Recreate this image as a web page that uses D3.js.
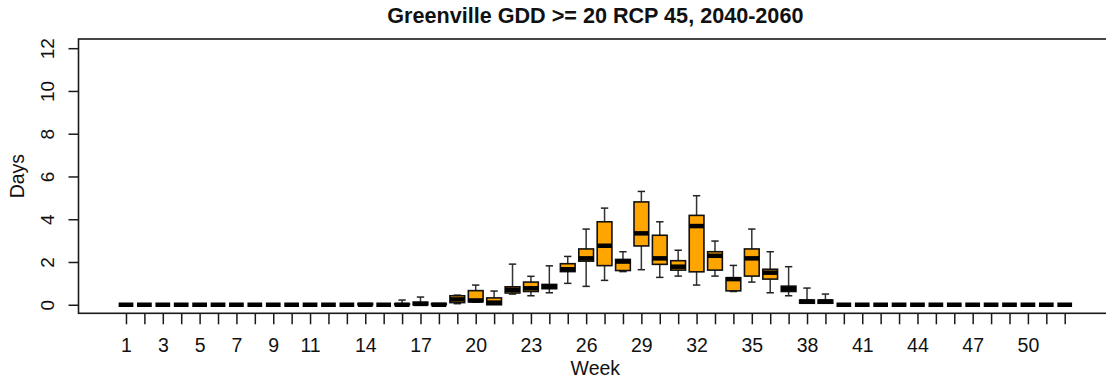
<!DOCTYPE html>
<html>
<head>
<meta charset="utf-8">
<script src="https://cdn.jsdelivr.net/npm/d3@7"></script>
<style>
  html, body { margin: 0; padding: 0; background: #fff; }
  svg { display: block; font-family: "Liberation Sans", Arial, sans-serif; }
</style>
</head>
<body>
<svg id="chart" width="1106" height="382"></svg>
<script>
// Weekly distribution of days with GDD >= 20 (boxplot statistics per week)
const weeks = d3.range(1, 53);
const whiskerLow = [
  0,0,0,0,0,0,0,0,0,0,0,0,0,0,0,0,0,0,0.05,0.12,
  0,0.5,0.42,0.56,1.0,0.86,1.14,1.55,1.64,1.28,
  1.34,0.92,1.34,0.62,1.06,0.56,0.42,0.07,0.07,0,
  0,0,0,0,0,0,0,0,0,0,0,0
];
const q1 = [
  0,0,0,0,0,0,0,0,0,0,0,0,0,0,0,0,0,0,0.1,0.14,
  0,0.55,0.62,0.75,1.55,2.04,1.83,1.6,2.75,1.89,
  1.62,1.54,1.62,0.65,1.34,1.2,0.62,0.07,0.07,0,
  0,0,0,0,0,0,0,0,0,0,0,0
];
const median = [
  0,0,0,0,0,0,0,0,0,0,0,0,0,0,0,0,0.04,0,0.25,0.2,
  0.1,0.7,0.77,0.85,1.66,2.17,2.76,2.02,3.34,2.17,
  1.78,3.68,2.29,1.2,2.17,1.5,0.75,0.15,0.15,0,
  0,0,0,0,0,0,0,0,0,0,0,0
];
const q3 = [
  0,0,0,0,0,0,0,0,0,0,0,0,0,0.06,0,0.05,0.12,0.06,0.42,0.66,
  0.32,0.84,1.06,0.95,1.92,2.61,3.88,2.12,4.81,3.25,
  2.06,4.18,2.48,1.26,2.61,1.66,0.87,0.22,0.22,0,
  0,0,0,0,0,0,0,0,0,0,0,0
];
const whiskerHigh = [
  0,0,0,0,0,0,0,0,0,0,0,0,0,0.06,0,0.22,0.36,0.06,0.45,0.92,
  0.64,1.9,1.33,1.82,2.26,3.54,4.52,2.48,5.3,3.88,
  2.55,5.1,2.98,1.84,3.54,2.48,1.78,0.78,0.5,0,
  0,0,0,0,0,0,0,0,0,0,0,0
];
const xTickLabels = [1,3,5,7,9,11,14,17,20,23,26,29,32,35,38,41,44,47,50];
const yTicks = [0,2,4,6,8,10,12];

const svg = d3.select("#chart");

// Plot region (extends slightly past the right edge of the canvas)
const plotLeft = 78.5, plotRight = 1112.2, plotTop = 39, plotBottom = 313.3;

const x = d3.scaleLinear().domain([-1.58, 54.58]).range([plotLeft, plotRight]);
const y = d3.scaleLinear().domain([-0.4, 12.43]).range([plotBottom, plotTop]);

const boxW = (x(1) - x(0)) * 0.8;
const capW = boxW * 0.5;

const axisColor = "#1a1a1a";

// Frame around the plot region
svg.append("rect")
  .attr("x", plotLeft).attr("y", plotTop)
  .attr("width", plotRight - plotLeft).attr("height", plotBottom - plotTop)
  .attr("fill", "none").attr("stroke", axisColor).attr("stroke-width", 1.6);

// Y axis
const yAxis = svg.append("g")
  .attr("transform", `translate(${plotLeft},0)`)
  .call(d3.axisLeft(y).tickValues(yTicks).tickSize(10).tickFormat(d3.format("d")));
yAxis.select(".domain").remove();
yAxis.selectAll(".tick line").attr("stroke", axisColor).attr("stroke-width", 1.5);
yAxis.selectAll(".tick text").remove();
yAxis.selectAll(".tick").append("text")
  .attr("transform", "translate(-31,0) rotate(-90)")
  .attr("text-anchor", "middle")
  .attr("dominant-baseline", "central")
  .attr("fill", "#111")
  .style("font-size", "19px")
  .text(d => d);

// X axis
const labelSet = new Set(xTickLabels);
const xAxis = svg.append("g")
  .attr("transform", `translate(0,${plotBottom})`)
  .call(d3.axisBottom(x).tickValues(weeks).tickSize(11)
    .tickFormat(d => labelSet.has(d) ? d : ""));
xAxis.select(".domain").remove();
xAxis.selectAll(".tick line").attr("stroke", axisColor).attr("stroke-width", 1.5);
xAxis.selectAll(".tick text")
  .attr("y", 39).attr("dy", 0)
  .attr("fill", "#111")
  .style("font-size", "19.5px")
  .style("font-family", "'Liberation Sans', Arial, sans-serif");

// Boxes
const data = weeks.map((w, i) => ({
  w, lo: whiskerLow[i], q1: q1[i], med: median[i], q3: q3[i], hi: whiskerHigh[i]
}));

const g = svg.append("g");
const box = g.selectAll("g.box").data(data).join("g").attr("class", "box");

// whiskers
box.append("line")
  .attr("x1", d => x(d.w)).attr("x2", d => x(d.w))
  .attr("y1", d => y(d.q3)).attr("y2", d => y(d.hi))
  .attr("stroke", "#333").attr("stroke-width", 1.5)
  .attr("display", d => d.hi > d.q3 ? null : "none");
box.append("line")
  .attr("x1", d => x(d.w)).attr("x2", d => x(d.w))
  .attr("y1", d => y(d.q1)).attr("y2", d => y(d.lo))
  .attr("stroke", "#333").attr("stroke-width", 1.5)
  .attr("display", d => d.lo < d.q1 ? null : "none");
// staples
box.append("line")
  .attr("x1", d => x(d.w) - capW / 2).attr("x2", d => x(d.w) + capW / 2)
  .attr("y1", d => y(d.hi)).attr("y2", d => y(d.hi))
  .attr("stroke", "#222").attr("stroke-width", 1.5)
  .attr("display", d => d.hi > d.q3 ? null : "none");
box.append("line")
  .attr("x1", d => x(d.w) - capW / 2).attr("x2", d => x(d.w) + capW / 2)
  .attr("y1", d => y(d.lo)).attr("y2", d => y(d.lo))
  .attr("stroke", "#222").attr("stroke-width", 1.5)
  .attr("display", d => d.lo < d.q1 ? null : "none");
// box body
box.append("rect")
  .attr("x", d => x(d.w) - boxW / 2).attr("width", boxW)
  .attr("y", d => y(d.q3)).attr("height", d => y(d.q1) - y(d.q3))
  .attr("fill", "#FFA500").attr("stroke", "#111").attr("stroke-width", 1.6);
// median
box.append("line")
  .attr("x1", d => x(d.w) - boxW / 2).attr("x2", d => x(d.w) + boxW / 2)
  .attr("y1", d => y(d.med)).attr("y2", d => y(d.med))
  .attr("stroke", "#000").attr("stroke-width", 4.5);

// Title and axis titles
svg.append("text")
  .attr("x", (plotLeft + plotRight) / 2).attr("y", 23)
  .attr("text-anchor", "middle")
  .style("font-size", "21.6px").style("font-weight", "bold")
  .attr("fill", "#111")
  .text("Greenville GDD >= 20 RCP 45, 2040-2060");

svg.append("text")
  .attr("x", (plotLeft + plotRight) / 2).attr("y", 375)
  .attr("text-anchor", "middle")
  .style("font-size", "19.5px")
  .attr("fill", "#111")
  .text("Week");

svg.append("text")
  .attr("transform", `translate(24,${(plotTop + plotBottom) / 2}) rotate(-90)`)
  .attr("text-anchor", "middle")
  .style("font-size", "19.5px")
  .attr("fill", "#111")
  .text("Days");
</script>
</body>
</html>
